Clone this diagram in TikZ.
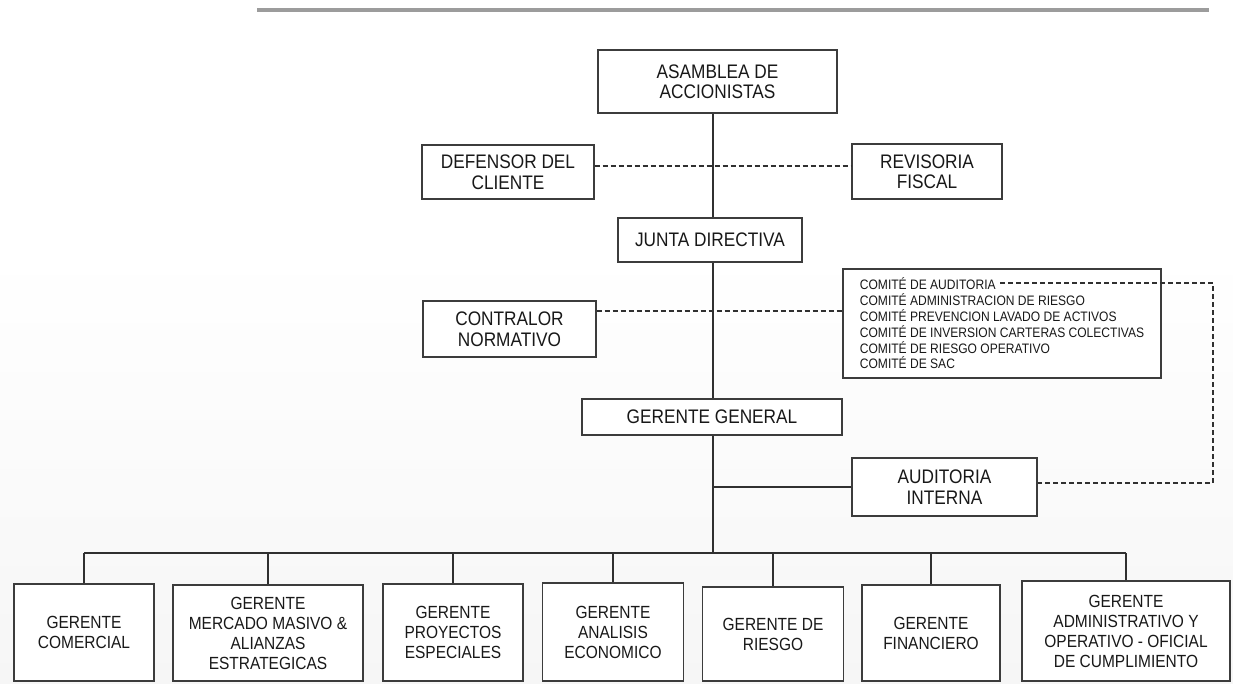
\documentclass[tikz,border=0pt]{standalone}
\usepackage{fontspec}
\setmainfont{Liberation Sans}[FakeStretch=0.88]
\definecolor{boxc}{HTML}{3C3C3C}
\definecolor{linec}{HTML}{303030}
\definecolor{txt}{HTML}{181818}
\definecolor{topgray}{HTML}{9C9C9C}
\begin{document}
\begin{tikzpicture}[x=1pt,y=-1pt,
  box/.style={draw=boxc, line width=1.3pt, fill=white, inner sep=0pt, align=center, text=txt},
  topfont/.style={font=\fontsize{19.6}{20.5}\selectfont},
  botfont/.style={font=\fontsize{17.6}{20}\selectfont},
  link/.style={draw=linec, line width=1.4pt},
  dlink/.style={draw=linec, line width=1.3pt, dash pattern=on 5pt off 3pt}]
\useasboundingbox (0,0) rectangle (1233,683);
\shade[top color=white, bottom color=black!3.5] (0,250) rectangle (1233,683);
\draw[line width=4pt, color=topgray] (257,10) -- (1209,10);

\coordinate (spine) at (713,0);
\coordinate (bus) at (713,553);

\node[box,topfont,minimum width=239pt,minimum height=63pt] (asam) at (717.5,81.5) {ASAMBLEA DE\\ACCIONISTAS};
\node[box,topfont,minimum width=172pt,minimum height=54pt] (defensor) at (508,172) {DEFENSOR DEL\\CLIENTE};
\node[box,topfont,minimum width=150pt,minimum height=55pt] (revisoria) at (927,171.5) {REVISORIA\\FISCAL};
\node[box,topfont,minimum width=184pt,minimum height=44pt] (junta) at (710,240) {JUNTA DIRECTIVA};
\node[box,topfont,minimum width=173pt,minimum height=56pt] (contralor) at (509.5,329) {CONTRALOR\\NORMATIVO};
\node[box,font=\fontsize{13.7}{15.8}\selectfont,align=left,inner xsep=15pt,inner ysep=0pt,minimum width=318pt,minimum height=109pt] (comite) at (1002,323.5)
  {COMITÉ DE AUDITORIA\\COMITÉ ADMINISTRACION DE RIESGO\\COMITÉ PREVENCION LAVADO DE ACTIVOS\\COMITÉ DE INVERSION CARTERAS COLECTIVAS\\COMITÉ DE RIESGO OPERATIVO\\COMITÉ DE SAC};
\node[box,topfont,minimum width=260pt,minimum height=36pt] (gg) at (712,417) {GERENTE GENERAL};
\node[box,topfont,minimum width=185pt,minimum height=58pt] (audit) at (944.5,487) {AUDITORIA\\INTERNA};

\node[box,botfont,minimum width=140pt,minimum height=97pt] (b1) at (84,632.5) {GERENTE\\COMERCIAL};
\node[box,botfont,minimum width=190pt,minimum height=96pt] (b2) at (268,633) {GERENTE\\MERCADO MASIVO \&\\ALIANZAS\\ESTRATEGICAS};
\node[box,botfont,minimum width=140pt,minimum height=97pt] (b3) at (453,632.5) {GERENTE\\PROYECTOS\\ESPECIALES};
\node[box,botfont,minimum width=141pt,minimum height=98pt] (b4) at (613,632) {GERENTE\\ANALISIS\\ECONOMICO};
\node[box,botfont,minimum width=141pt,minimum height=94pt] (b5) at (773,634) {GERENTE DE\\RIESGO};
\node[box,botfont,minimum width=138pt,minimum height=96pt] (b6) at (931,633) {GERENTE\\FINANCIERO};
\node[box,botfont,minimum width=208pt,minimum height=100pt] (b7) at (1126,631) {GERENTE\\ADMINISTRATIVO Y\\OPERATIVO - OFICIAL\\DE CUMPLIMIENTO};

% spine
\draw[link] (asam.south -| spine) -- (junta.north -| spine);
\draw[link] (junta.south -| spine) -- (gg.north -| spine);
\draw[link] (gg.south -| spine) -- (bus);
\draw[link] (spine |- audit.west) -- (audit.west);
\draw[link] (b1.north |- bus) -- (b7.north |- bus);
\foreach \b in {b1,b2,b3,b4,b5,b6,b7} \draw[link] (\b.north) -- (\b.north |- bus);

% dashed relations
\draw[dlink] ([yshift=6pt]defensor.east) -- ([yshift=6pt]defensor.east -| revisoria.west);
\draw[dlink] ([yshift=18pt]contralor.east) -- ([yshift=18pt]contralor.east -| comite.west);
\coordinate (audend) at (1000,283);
\coordinate (corner) at (1213,483);
\draw[dlink] (audend) -| (corner) -- (corner -| audit.east);
\end{tikzpicture}
\end{document}
